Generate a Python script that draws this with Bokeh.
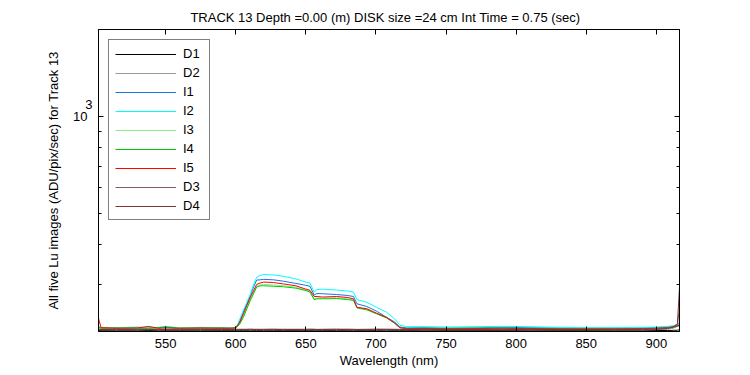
from bokeh.plotting import figure
from bokeh.models import Range1d, FixedTicker, LinearAxis, LogAxis, Legend, LegendItem, LogScale
from bokeh.embed import file_html
from bokeh.resources import INLINE

wavelength = [502, 504, 515, 530, 538, 545, 550, 560, 575, 590, 596, 599, 601, 603, 605.5, 608, 610.5, 613,
              615, 617.5, 620, 627, 634, 643, 650, 653, 656, 658, 662, 672, 680, 684, 686.5, 693.5, 700.5,
              707.5, 713.5, 717, 722, 735, 750, 770, 790, 810, 830, 850, 870, 890, 900, 908, 912, 915, 916.5]

D1 = [216, 215.5, 215.5, 215.3, 215.5, 215.5, 215.3, 215.5, 215.5, 215.3, 215.5, 215.5, 215.5, 215.5, 215.3,
      215.5, 215.5, 215.5, 215.5, 215.3, 215.5, 215.5, 215.5, 215.3, 215.5, 215.5, 215.5, 215.5, 215.3, 215.5,
      215.5, 215.5, 215.5, 215.3, 215.5, 215.5, 215.5, 215.5, 215.3, 215.5, 215.5, 215.5, 215.3, 215.5, 215.5,
      215.5, 215.5, 215.3, 215.5, 215.5, 215.8, 216, 216.5]
D2 = [217, 216.5, 216.3, 216.5, 216.8, 216.3, 216.5, 216.5, 216.3, 216.8, 216.5, 216.5, 216.3, 216.5, 216.8,
      216.5, 216.3, 216.5, 216.5, 216.8, 216.3, 216.5, 216.5, 216.8, 216.3, 216.5, 216.5, 216.3, 216.8, 216.5,
      216.5, 216.3, 216.5, 216.8, 216.5, 216.3, 216.5, 216.5, 216.8, 216.3, 216.5, 216.5, 216.8, 216.3, 216.5,
      216.5, 216.3, 216.5, 216.8, 217.5, 219, 222, 230]
I1 = [221, 220, 219.5, 220, 219.5, 220, 220.5, 219.5, 220, 219.5, 219.5, 220, 222.5, 231, 246, 261, 277, 296,
      309.5, 310, 311, 310, 307, 302, 298, 296, 278, 281, 280.5, 279, 277, 275, 261, 256, 247.6,
      237, 229, 221, 219.5, 220, 219.5, 220, 220.5, 220, 219.5, 219, 219, 219.5, 220, 221, 222, 224, 225]
I2 = [222, 220.5, 220, 221, 220, 220.5, 222, 220, 220.5, 220, 220, 220, 223, 234, 249, 264, 280, 301,
      316, 320, 322, 321, 318, 312, 305, 303, 284, 289, 290, 288, 286, 284, 269, 264, 254.5,
      246, 234, 224, 221.6, 221.5, 221, 221.5, 222, 221.5, 220.5, 220, 220, 220.5, 221, 222, 223, 225, 226]
I3 = [220.5, 219.5, 219, 219.5, 219, 219.5, 220.5, 219.5, 219, 219, 219.5, 219, 221.5, 227, 239, 254, 270, 284,
      296, 299, 300, 299, 297, 294, 288, 285.5, 271, 272, 272, 272.5, 270.5, 268.5, 254, 251, 243.5,
      236.5, 227, 220, 218.5, 219, 219, 219.5, 219, 219, 218.5, 218.5, 218, 218.5, 219, 220, 221, 222.5, 223.5]
I4 = [221, 219, 219.5, 219, 219, 220, 221, 219, 219, 219.5, 219, 219, 221, 226, 237, 252, 267.6, 282,
      294.5, 297, 297, 296, 295, 292, 287, 284, 269, 270.5, 270.5, 271, 269, 267.6, 253.5, 250, 243,
      236, 227, 220, 218.5, 219, 218.5, 219, 219, 218.5, 218.5, 218, 218, 218, 218.5, 219.5, 220.5, 222, 223]
I5 = [237, 220, 219, 219.5, 222, 219, 219.5, 219, 219.5, 219, 219, 219.5, 222, 229, 243, 258, 274, 288,
      300, 303, 305, 304, 301, 297, 290, 287.6, 275, 275, 274, 275, 273, 270.5, 254.5, 252, 244,
      237, 227, 220, 218.5, 218.5, 218, 218.5, 219, 218.5, 218, 218, 218, 218.5, 219, 220, 221, 223, 224]
D3 = [218, 217.5, 217.3, 217.8, 217.5, 217.3, 217.5, 217.8, 217.5, 217.3, 217.5, 217.8, 217.5, 217.5, 217.3,
      217.5, 217.8, 217.5, 217.3, 217.5, 217.5, 217.8, 217.3, 217.5, 217.5, 217.8, 217.5, 217.3, 217.5, 217.8,
      217.5, 217.5, 217.3, 217.5, 217.8, 217.5, 217.5, 217.3, 217.8, 217.5, 217.5, 217.3, 217.8, 217.5, 217.5,
      217.3, 217.5, 217.8, 218, 219, 221, 225, 252]
D4 = [217.5, 217, 217.3, 216.8, 217, 217.3, 217, 216.8, 217, 217.3, 217, 217, 216.8, 217, 217.3,
      217, 216.8, 217, 217.3, 217, 217, 216.8, 217.3, 217, 217, 216.8, 217.3, 217, 217, 216.8,
      217.3, 217, 217, 216.8, 217, 217.3, 217, 216.8, 217, 217.3, 217, 217, 216.8, 217.3, 217,
      217, 216.8, 217.3, 217.5, 218.5, 221, 226, 294]

series_names = ["D1", "D2", "I1", "I2", "I3", "I4", "I5", "D3", "D4"]
series_values = [D1, D2, I1, I2, I3, I4, I5, D3, D4]
series_colors = ["#000000", "#999999", "#1a73e0", "#00ffff", "#88ee88", "#00c800", "#ff0000", "#7f5f5f", "#7f3333"]

x_ticks = [550, 600, 650, 700, 750, 800, 850, 900]
y_major = [1000]
y_minor = [300, 400, 500, 600, 700, 800, 900]
y_lo, y_hi = 214, 1866
# exponent "3" of the 10^3 label sits 12 px above the tick (321 px per decade)
sup_shift = 10 ** (-12 / 321)

FONT = "Liberation Sans"

p = figure(width=742, height=372, output_backend="svg", toolbar_location=None,
           y_axis_type="log", y_axis_location=None,
           x_range=Range1d(502.2, 916.5), y_range=Range1d(y_lo, y_hi),
           min_border_left=98, min_border_right=63, min_border_top=29, min_border_bottom=41,
           title="TRACK 13 Depth =0.00 (m) DISK size =24 cm   Int Time = 0.75 (sec)")

p.extra_y_ranges = {"sup": Range1d(y_lo * sup_shift, y_hi * sup_shift)}
p.extra_y_scales = {"sup": LogScale()}

p.background_fill_color = "white"
p.border_fill_color = "white"
p.outline_line_color = "black"
p.outline_line_width = 1
for g in p.grid:
    g.grid_line_color = None

p.title.text_font = FONT
p.title.text_font_size = "13px"
p.title.text_font_style = "normal"
p.title.text_color = "black"
p.title.align = "center"
p.title.standoff = 10

renderers = []
for name, vals, col in zip(series_names, series_values, series_colors):
    r = p.line(wavelength, vals, line_color=col, line_width=1)
    renderers.append((name, r))


def style_axis(ax):
    ax.axis_line_color = "black"
    ax.major_tick_line_color = "black"
    ax.minor_tick_line_color = "black"
    ax.major_tick_in = 5
    ax.major_tick_out = 0
    ax.minor_tick_in = 3
    ax.minor_tick_out = 0
    ax.major_label_text_font = FONT
    ax.major_label_text_font_size = "13px"
    ax.major_label_text_color = "black"
    ax.axis_label_text_font = FONT
    ax.axis_label_text_font_size = "13px"
    ax.axis_label_text_font_style = "normal"
    ax.axis_label_text_color = "black"


def hide_labels(ax):
    ax.major_label_text_font_size = "1px"
    ax.major_label_text_color = None
    ax.major_label_standoff = 0


def hide_line(ax):
    ax.axis_line_color = None
    ax.major_tick_line_color = None
    ax.minor_tick_line_color = None


xa = p.xaxis[0]
xa.ticker = FixedTicker(ticks=x_ticks, minor_ticks=[])
xa.axis_label = "Wavelength (nm)"
style_axis(xa)
xa.major_label_standoff = 7
xa.axis_label_standoff = 2

# left: ticks only (innermost)
yt = LogAxis(ticker=FixedTicker(ticks=y_major, minor_ticks=y_minor))
style_axis(yt)
hide_labels(yt)
p.add_layout(yt, "left")

# left: exponent of the 10^3 label
ys = LogAxis(y_range_name="sup", ticker=FixedTicker(ticks=y_major, minor_ticks=[]))
style_axis(ys)
hide_line(ys)
ys.major_label_overrides = {1000: "3"}
ys.major_label_standoff = 6
p.add_layout(ys, "left")

# left: mantissa "10" and axis title
ym = LogAxis(ticker=FixedTicker(ticks=y_major, minor_ticks=[]))
style_axis(ym)
hide_line(ym)
ym.major_label_overrides = {1000: "10"}
ym.major_label_standoff = -5
ym.axis_label = "All five Lu images (ADU/pix/sec) for Track 13"
ym.axis_label_standoff = 9
p.add_layout(ym, "left")

top = LinearAxis(ticker=FixedTicker(ticks=x_ticks, minor_ticks=[]))
style_axis(top)
hide_labels(top)
top.major_label_standoff = 4
p.add_layout(top, "above")

right = LogAxis(ticker=FixedTicker(ticks=y_major, minor_ticks=y_minor))
style_axis(right)
hide_labels(right)
p.add_layout(right, "right")

legend = Legend(items=[LegendItem(label=n, renderers=[r]) for n, r in renderers],
                location="top_left", margin=10, padding=6, spacing=4,
                glyph_width=61, glyph_height=14, label_height=14, label_standoff=7,
                label_text_font=FONT, label_text_font_size="13px", label_text_color="black",
                border_line_color="black", border_line_width=1,
                background_fill_color="white", background_fill_alpha=1)
p.add_layout(legend, "center")

open("out.html", "w").write(file_html(p, INLINE))
